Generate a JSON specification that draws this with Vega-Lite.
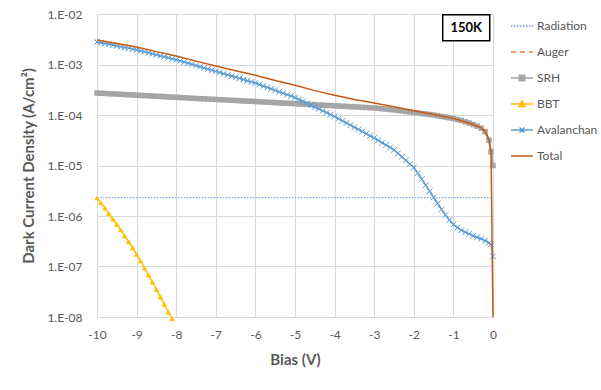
{
"$schema": "https://vega.github.io/schema/vega-lite/v6.json",
"width": 396, "height": 303,
"autosize": {"type": "none"},
"padding": {"left": 97, "top": 14, "right": 108, "bottom": 73},
"background": "white",
"config": {"view": {"stroke": null}, "font": "Lato"},
"datasets": {
"curves": [
{"V":-10,"SRH":2.72e-4,"Avalanchan":2.79e-3,"BBT":2.29e-6,"Total":3.06e-3,"Radiation":2.3e-6},
{"V":-9.9,"SRH":2.69e-4,"Avalanchan":2.70e-3,"BBT":1.82e-6},
{"V":-9.8,"SRH":2.67e-4,"Avalanchan":2.60e-3,"BBT":1.43e-6},
{"V":-9.7,"SRH":2.64e-4,"Avalanchan":2.51e-3,"BBT":1.12e-6},
{"V":-9.6,"SRH":2.62e-4,"Avalanchan":2.43e-3,"BBT":8.71e-7},
{"V":-9.5,"SRH":2.59e-4,"Avalanchan":2.34e-3,"BBT":6.84e-7,"Total":2.60e-3},
{"V":-9.4,"SRH":2.57e-4,"Avalanchan":2.26e-3,"BBT":5.31e-7},
{"V":-9.3,"SRH":2.54e-4,"Avalanchan":2.18e-3,"BBT":4.07e-7},
{"V":-9.2,"SRH":2.52e-4,"Avalanchan":2.11e-3,"BBT":3.09e-7},
{"V":-9.1,"SRH":2.49e-4,"Avalanchan":2.03e-3,"BBT":2.34e-7},
{"V":-9,"SRH":2.47e-4,"Avalanchan":1.96e-3,"BBT":1.74e-7,"Total":2.21e-3,"Radiation":2.3e-6},
{"V":-8.9,"SRH":2.45e-4,"Avalanchan":1.875e-3,"BBT":1.29e-7},
{"V":-8.8,"SRH":2.42e-4,"Avalanchan":1.79e-3,"BBT":9.33e-8},
{"V":-8.7,"SRH":2.40e-4,"Avalanchan":1.71e-3,"BBT":6.76e-8},
{"V":-8.6,"SRH":2.37e-4,"Avalanchan":1.64e-3,"BBT":4.90e-8},
{"V":-8.5,"SRH":2.35e-4,"Avalanchan":1.56e-3,"BBT":3.55e-8,"Total":1.80e-3},
{"V":-8.4,"SRH":2.33e-4,"Avalanchan":1.49e-3,"BBT":2.51e-8},
{"V":-8.3,"SRH":2.31e-4,"Avalanchan":1.43e-3,"BBT":1.78e-8},
{"V":-8.2,"SRH":2.28e-4,"Avalanchan":1.365e-3,"BBT":1.26e-8},
{"V":-8.1,"SRH":2.26e-4,"Avalanchan":1.30e-3,"BBT":9.3e-9},
{"V":-8,"SRH":2.24e-4,"Avalanchan":1.245e-3,"Total":1.47e-3,"Radiation":2.3e-6},
{"V":-7.9,"SRH":2.22e-4,"Avalanchan":1.18e-3},
{"V":-7.8,"SRH":2.20e-4,"Avalanchan":1.12e-3},
{"V":-7.7,"SRH":2.17e-4,"Avalanchan":1.06e-3},
{"V":-7.6,"SRH":2.15e-4,"Avalanchan":1.005e-3},
{"V":-7.5,"SRH":2.13e-4,"Avalanchan":9.53e-4,"Total":1.166e-3},
{"V":-7.4,"SRH":2.11e-4,"Avalanchan":9.04e-4},
{"V":-7.3,"SRH":2.09e-4,"Avalanchan":8.57e-4},
{"V":-7.2,"SRH":2.07e-4,"Avalanchan":8.11e-4},
{"V":-7.1,"SRH":2.05e-4,"Avalanchan":7.69e-4},
{"V":-7,"SRH":2.03e-4,"Avalanchan":7.30e-4,"Total":9.33e-4,"Radiation":2.3e-6},
{"V":-6.9,"SRH":2.01e-4,"Avalanchan":6.92e-4},
{"V":-6.8,"SRH":1.99e-4,"Avalanchan":6.56e-4},
{"V":-6.7,"SRH":1.98e-4,"Avalanchan":6.22e-4},
{"V":-6.6,"SRH":1.96e-4,"Avalanchan":5.90e-4},
{"V":-6.5,"SRH":1.94e-4,"Avalanchan":5.60e-4,"Total":7.54e-4},
{"V":-6.4,"SRH":1.92e-4,"Avalanchan":5.31e-4},
{"V":-6.3,"SRH":1.90e-4,"Avalanchan":5.04e-4},
{"V":-6.2,"SRH":1.88e-4,"Avalanchan":4.78e-4},
{"V":-6.1,"SRH":1.87e-4,"Avalanchan":4.53e-4},
{"V":-6,"SRH":1.85e-4,"Avalanchan":4.30e-4,"Total":6.15e-4,"Radiation":2.3e-6},
{"V":-5.9,"SRH":1.83e-4,"Avalanchan":4.02e-4},
{"V":-5.8,"SRH":1.81e-4,"Avalanchan":3.76e-4},
{"V":-5.7,"SRH":1.79e-4,"Avalanchan":3.52e-4},
{"V":-5.6,"SRH":1.78e-4,"Avalanchan":3.30e-4},
{"V":-5.5,"SRH":1.76e-4,"Avalanchan":3.08e-4,"Total":4.84e-4},
{"V":-5.4,"SRH":1.74e-4,"Avalanchan":2.88e-4},
{"V":-5.3,"SRH":1.72e-4,"Avalanchan":2.70e-4},
{"V":-5.2,"SRH":1.71e-4,"Avalanchan":2.53e-4},
{"V":-5.1,"SRH":1.69e-4,"Avalanchan":2.37e-4},
{"V":-5,"SRH":1.67e-4,"Avalanchan":2.21e-4,"Total":3.88e-4,"Radiation":2.3e-6},
{"V":-4.9,"SRH":1.66e-4,"Avalanchan":2.03e-4},
{"V":-4.8,"SRH":1.64e-4,"Avalanchan":1.86e-4},
{"V":-4.7,"SRH":1.63e-4,"Avalanchan":1.71e-4},
{"V":-4.6,"SRH":1.61e-4,"Avalanchan":1.57e-4},
{"V":-4.5,"SRH":1.60e-4,"Avalanchan":1.435e-4,"Total":3.04e-4},
{"V":-4.4,"SRH":1.58e-4,"Avalanchan":1.32e-4},
{"V":-4.3,"SRH":1.57e-4,"Avalanchan":1.21e-4},
{"V":-4.2,"SRH":1.55e-4,"Avalanchan":1.11e-4},
{"V":-4.1,"SRH":1.54e-4,"Avalanchan":1.02e-4},
{"V":-4,"SRH":1.52e-4,"Avalanchan":9.33e-5,"Total":2.45e-4,"Radiation":2.3e-6},
{"V":-3.9,"SRH":1.51e-4,"Avalanchan":8.45e-5},
{"V":-3.8,"SRH":1.49e-4,"Avalanchan":7.67e-5},
{"V":-3.7,"SRH":1.48e-4,"Avalanchan":6.95e-5},
{"V":-3.6,"SRH":1.46e-4,"Avalanchan":6.31e-5},
{"V":-3.5,"SRH":1.45e-4,"Avalanchan":5.72e-5,"Total":2.02e-4},
{"V":-3.4,"SRH":1.44e-4,"Avalanchan":5.19e-5},
{"V":-3.3,"SRH":1.42e-4,"Avalanchan":4.70e-5},
{"V":-3.2,"SRH":1.41e-4,"Avalanchan":4.27e-5},
{"V":-3.1,"SRH":1.39e-4,"Avalanchan":3.86e-5},
{"V":-3,"SRH":1.38e-4,"Avalanchan":3.51e-5,"Total":1.73e-4,"Radiation":2.3e-6},
{"V":-2.9,"SRH":1.36e-4,"Avalanchan":3.15e-5},
{"V":-2.8,"SRH":1.33e-4,"Avalanchan":2.83e-5},
{"V":-2.7,"SRH":1.31e-4,"Avalanchan":2.54e-5},
{"V":-2.6,"SRH":1.28e-4,"Avalanchan":2.28e-5},
{"V":-2.5,"SRH":1.26e-4,"Avalanchan":2.04e-5,"Total":1.46e-4},
{"V":-2.4,"SRH":1.23e-4,"Avalanchan":1.74e-5},
{"V":-2.3,"SRH":1.21e-4,"Avalanchan":1.48e-5},
{"V":-2.2,"SRH":1.17e-4,"Avalanchan":1.26e-5},
{"V":-2.1,"SRH":1.15e-4,"Avalanchan":1.07e-5},
{"V":-2,"SRH":1.12e-4,"Avalanchan":9.12e-6,"Total":1.21e-4,"Radiation":2.3e-6},
{"V":-1.9,"SRH":1.10e-4,"Avalanchan":7.08e-6},
{"V":-1.8,"SRH":1.07e-4,"Avalanchan":5.37e-6},
{"V":-1.7,"SRH":1.05e-4,"Avalanchan":4.07e-6},
{"V":-1.6,"SRH":1.02e-4,"Avalanchan":3.09e-6},
{"V":-1.5,"SRH":1.00e-4,"Avalanchan":2.34e-6,"Total":1.02e-4},
{"V":-1.4,"SRH":9.7e-5,"Avalanchan":1.78e-6},
{"V":-1.3,"SRH":9.4e-5,"Avalanchan":1.35e-6},
{"V":-1.2,"SRH":9.1e-5,"Avalanchan":1.05e-6},
{"V":-1.1,"SRH":8.8e-5,"Avalanchan":8.32e-7},
{"V":-1,"SRH":8.51e-5,"Avalanchan":6.76e-7,"Total":8.58e-5,"Radiation":2.3e-6},
{"V":-0.9,"SRH":8.13e-5,"Avalanchan":5.89e-7},
{"V":-0.8,"SRH":7.76e-5,"Avalanchan":5.25e-7},
{"V":-0.7,"SRH":7.33e-5,"Avalanchan":4.79e-7},
{"V":-0.6,"SRH":6.92e-5,"Avalanchan":4.42e-7},
{"V":-0.5,"SRH":6.46e-5,"Avalanchan":4.07e-7,"Total":6.5e-5},
{"V":-0.4,"SRH":6.03e-5,"Avalanchan":3.80e-7},
{"V":-0.3,"SRH":5.50e-5,"Avalanchan":3.55e-7,"Total":5.55e-5},
{"V":-0.2,"SRH":4.68e-5,"Avalanchan":3.24e-7,"Total":4.75e-5},
{"V":-0.1,"SRH":3.16e-5,"Avalanchan":2.95e-7,"Total":3.2e-5},
{"V":-0.05,"SRH":1.86e-5,"Avalanchan":2.75e-7,"Total":1.9e-5},
{"V":0,"SRH":1.0e-5,"Avalanchan":1.585e-7,"Total":1e-8,"Radiation":2.3e-6}
],
"note": [{"x1": -1.27, "x2": -0.083, "y1": 9.7e-3, "y2": 2.96e-3, "xc": -0.676, "yc": 5.36e-3, "label": "150K"}]
},
"encoding": {
  "x": {"field": "V", "type": "quantitative", "title": "Bias (V)",
    "scale": {"domain": [-10, 0], "nice": false, "zero": false},
    "axis": {"values": [-10,-9,-8,-7,-6,-5,-4,-3,-2,-1,0], "labelExpr": "'' + datum.value", "labelFlush": false,
      "grid": true, "gridColor": "#d9d9d9", "domainColor": "#d9d9d9", "ticks": false, "tickSize": 0,
      "labelFont": "Lato", "labelFontSize": 12, "labelColor": "#595959", "labelPadding": 12,
      "titleFont": "Lato", "titleFontSize": 15, "titleFontWeight": "bold", "titleColor": "#595959", "titlePadding": 12}},
  "y": {"field": "value", "type": "quantitative", "title": "Dark Current Density (A/cm²)",
    "scale": {"type": "log", "domain": [1e-8, 1e-2], "nice": false},
    "axis": {"values": [1e-8,1e-7,1e-6,1e-5,1e-4,1e-3,1e-2], "labelExpr": "'1.E-0' + round(-log(datum.value)/LN10)", "labelFlush": false,
      "grid": true, "gridColor": "#d9d9d9", "domainColor": "#d9d9d9", "ticks": false, "tickSize": 0,
      "labelFont": "Lato", "labelFontSize": 12, "labelColor": "#595959", "labelPadding": 15,
      "titleFont": "Lato", "titleFontSize": 15, "titleFontWeight": "bold", "titleColor": "#595959", "titlePadding": 10}},
  "color": {"field": "series", "type": "nominal",
    "scale": {"domain": ["Radiation","Auger","SRH","BBT","Avalanchan","Total"],
              "range": ["#5B9BD5","#ED7D31","#A5A5A5","#FFC000","#5B9BD5","#C55A11"]},
    "legend": {"title": null, "orient": "right", "offset": 12, "padding": 0,
      "labelFont": "Lato", "labelFontSize": 12, "labelColor": "#595959",
      "symbolSize": 484, "rowPadding": 8, "labelOffset": 3, "symbolStrokeWidth": 1.5,
      "encode": {"symbols": {"update": {
        "shape": {"signal": "datum.value === 'SRH' ? 'M-1,0H1M-0.25,-0.25H0.25V0.25H-0.25Z' : datum.value === 'BBT' ? 'M-1,0H1M0,-0.28L0.28,0.22H-0.28Z' : datum.value === 'Avalanchan' ? 'M-1,0H1M-0.22,-0.22L0.22,0.22M-0.22,0.22L0.22,-0.22' : 'M-1,0H1'"},
        "stroke": {"scale": "color", "field": "value"},
        "fill": {"signal": "indexof(['SRH','BBT'], datum.value) >= 0 ? scale('color', datum.value) : 'transparent'"},
        "strokeDash": {"signal": "datum.value === 'Radiation' ? [1.5,1.5] : datum.value === 'Auger' ? [5,4] : []"},
        "strokeWidth": {"value": 1.5},
        "opacity": {"value": 1}
      }}}}
  }
},
"layer": [
  {"data": {"name": "curves"},
   "transform": [{"fold": ["Radiation"], "as": ["series", "value"]}, {"filter": "isValid(datum.value)"}],
   "mark": {"type": "line", "strokeWidth": 1.2, "strokeDash": [1.5, 1.5]}},
  {"data": {"name": "curves"},
   "transform": [{"fold": ["SRH"], "as": ["series", "value"]}, {"filter": "isValid(datum.value)"}],
   "mark": {"type": "line", "strokeWidth": 2.25, "point": {"filled": true, "shape": "square", "size": 30, "opacity": 1}}},
  {"data": {"name": "curves"},
   "transform": [{"fold": ["BBT"], "as": ["series", "value"]}, {"filter": "isValid(datum.value)"}],
   "mark": {"type": "line", "strokeWidth": 1.5, "point": {"filled": true, "shape": "triangle-up", "size": 32, "opacity": 1}}},
  {"data": {"name": "curves"},
   "transform": [{"fold": ["Avalanchan"], "as": ["series", "value"]}, {"filter": "isValid(datum.value)"}],
   "mark": {"type": "line", "strokeWidth": 1.5, "point": {"filled": false, "shape": "M-1,-1L1,1M-1,1L1,-1", "size": 34, "strokeWidth": 1, "opacity": 1}}},
  {"data": {"name": "curves"},
   "transform": [{"fold": ["Total"], "as": ["series", "value"]}, {"filter": "isValid(datum.value)"}],
   "mark": {"type": "line", "strokeWidth": 1.5}},
  {"data": {"name": "note"},
   "mark": {"type": "rect", "stroke": "black", "strokeWidth": 1.5},
   "encoding": {
     "x": {"field": "x1", "type": "quantitative", "title": "Bias (V)"},
     "x2": {"field": "x2"},
     "y": {"field": "y1", "type": "quantitative", "title": "Dark Current Density (A/cm²)"},
     "y2": {"field": "y2"},
     "color": {"value": "white"}}},
  {"data": {"name": "note"},
   "mark": {"type": "text", "font": "Lato", "fontSize": 13, "fontWeight": "bold"},
   "encoding": {
     "x": {"field": "xc", "type": "quantitative", "title": "Bias (V)"},
     "y": {"field": "yc", "type": "quantitative", "title": "Dark Current Density (A/cm²)"},
     "text": {"field": "label"},
     "color": {"value": "black"}}}
]
}
